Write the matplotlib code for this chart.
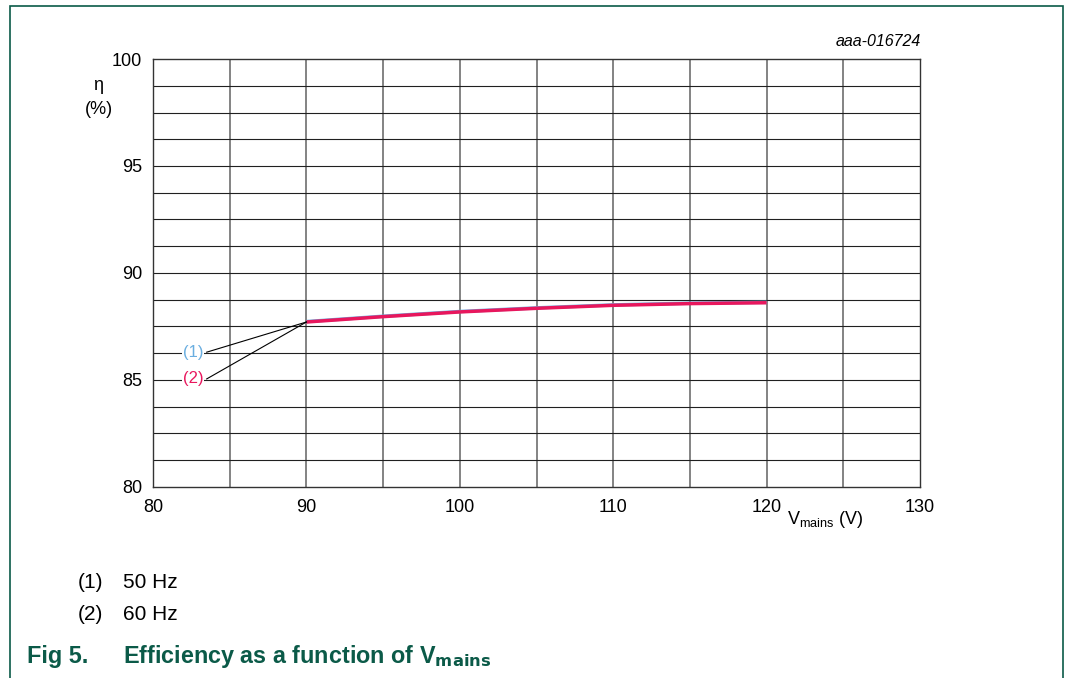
import numpy as np
import matplotlib
matplotlib.use('Agg')
from matplotlib import pyplot as plt
from matplotlib.patches import Rectangle

plt.rcParams['font.family'] = ['Liberation Sans', 'DejaVu Sans']

# efficiency vs mains voltage
v_mains = [90, 95, 100, 105, 110, 115, 120]
eta_50hz = [87.73, 87.98, 88.20, 88.37, 88.51, 88.59, 88.63]
eta_60hz = [87.71, 87.96, 88.18, 88.35, 88.49, 88.57, 88.61]

x_ticks = [80, 90, 100, 110, 120, 130]
y_ticks = [80, 85, 90, 95, 100]

blue = '#6aaee0'
pink = '#e8175d'
green = '#0b5a48'

W, H = 1066, 678
fig = plt.figure(figsize=(W/100, H/100), dpi=100)
ax = fig.add_axes([153/W, 1 - 487/H, (920-153)/W, (487-59)/H])

def fx(px):
    return px / W

def fy(py):
    return 1 - py / H

# grid
for xv in np.arange(85, 130, 5):
    ax.axvline(xv, color='#6e6e6e', lw=1.2, zorder=1)
for yv in np.arange(81.25, 100, 1.25):
    ax.axhline(yv, color='#202020', lw=0.8, zorder=1)

ax.plot(v_mains, eta_50hz, color=blue, lw=2.5, zorder=3, solid_capstyle='butt')
ax.plot(v_mains, eta_60hz, color=pink, lw=2.5, zorder=4, solid_capstyle='butt')

# callouts
ax.plot([83.5, 90], [86.3, eta_60hz[0]], color='black', lw=0.8, zorder=5)
ax.plot([83.5, 90], [85.05, eta_60hz[0]], color='black', lw=0.8, zorder=5)
ax.text(82.6, 86.3, '(1)', color=blue, fontsize=12, ha='center', va='center', zorder=6,
        bbox=dict(facecolor='white', edgecolor='none', pad=0.5))
ax.text(82.6, 85.05, '(2)', color=pink, fontsize=12, ha='center', va='center', zorder=6,
        bbox=dict(facecolor='white', edgecolor='none', pad=0.5))

ax.set_xlim(80, 130)
ax.set_ylim(80, 100)
ax.set_xticks(x_ticks)
ax.set_yticks(y_ticks)
ax.tick_params(axis='x', length=0, labelsize=13, pad=9)
ax.tick_params(axis='y', length=0, labelsize=13, pad=8)
for s in ax.spines.values():
    s.set_color('#333333')
    s.set_linewidth(1.0)

fig.text(fx(921), fy(42), 'aaa-016724', ha='right', va='center',
         fontsize=11.5, style='italic')
fig.text(fx(98), fy(85), 'η', ha='center', va='center', fontsize=13)
fig.text(fx(99), fy(109), '(%)', ha='center', va='center', fontsize=13)
fig.text(fx(825), fy(519), r'V$_{\mathregular{mains}}$ (V)', ha='center', va='center',
         fontsize=13)

# notes and caption
fig.text(fx(78), fy(583), '(1)', ha='left', va='center', fontsize=15)
fig.text(fx(123), fy(583), '50 Hz', ha='left', va='center', fontsize=15)
fig.text(fx(78), fy(615), '(2)', ha='left', va='center', fontsize=15)
fig.text(fx(123), fy(615), '60 Hz', ha='left', va='center', fontsize=15)
fig.text(fx(27), fy(657), 'Fig 5.', ha='left', va='center', fontsize=16.8,
         fontweight='bold', color=green)
fig.text(fx(123), fy(657), r'Efficiency as a function of V$_{\mathbf{mains}}$', ha='left',
         va='center', fontsize=16.8, fontweight='bold', color=green)

# frame
fig.patches.append(Rectangle((fx(10), -0.01), fx(1063 - 10), 1 - 6/H + 0.01,
                             transform=fig.transFigure, fill=False,
                             edgecolor=green, lw=1.2))

fig.savefig('out.png', dpi=100)
